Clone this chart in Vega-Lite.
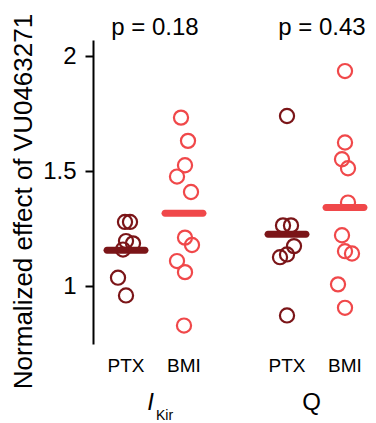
{
  "$schema": "https://vega.github.io/schema/vega-lite/v6.json",
  "padding": {"left": 10, "top": 13, "right": 0, "bottom": 0},
  "background": "white",
  "bounds": "flush",
  "config": {
    "font": "Liberation Sans",
    "view": {"stroke": null},
    "concat": {"spacing": 37}
  },
  "datasets": {
    "pts": [
      {"group": "IKir", "treatment": "PTX", "value": 1.28, "jitter": -1},
      {"group": "IKir", "treatment": "PTX", "value": 1.28, "jitter": 4},
      {"group": "IKir", "treatment": "PTX", "value": 1.197, "jitter": 0},
      {"group": "IKir", "treatment": "PTX", "value": 1.187, "jitter": 7},
      {"group": "IKir", "treatment": "PTX", "value": 1.16, "jitter": -3},
      {"group": "IKir", "treatment": "PTX", "value": 1.038, "jitter": -8},
      {"group": "IKir", "treatment": "PTX", "value": 0.961, "jitter": 0},
      {"group": "IKir", "treatment": "BMI", "value": 1.733, "jitter": -3},
      {"group": "IKir", "treatment": "BMI", "value": 1.632, "jitter": 4},
      {"group": "IKir", "treatment": "BMI", "value": 1.526, "jitter": 1},
      {"group": "IKir", "treatment": "BMI", "value": 1.477, "jitter": -7},
      {"group": "IKir", "treatment": "BMI", "value": 1.41, "jitter": 7},
      {"group": "IKir", "treatment": "BMI", "value": 1.212, "jitter": 1},
      {"group": "IKir", "treatment": "BMI", "value": 1.18, "jitter": 8},
      {"group": "IKir", "treatment": "BMI", "value": 1.11, "jitter": -7},
      {"group": "IKir", "treatment": "BMI", "value": 1.062, "jitter": 1},
      {"group": "IKir", "treatment": "BMI", "value": 0.83, "jitter": 0},
      {"group": "Q", "treatment": "PTX", "value": 1.74, "jitter": 0},
      {"group": "Q", "treatment": "PTX", "value": 1.265, "jitter": -4},
      {"group": "Q", "treatment": "PTX", "value": 1.265, "jitter": 4},
      {"group": "Q", "treatment": "PTX", "value": 1.175, "jitter": 7},
      {"group": "Q", "treatment": "PTX", "value": 1.139, "jitter": 0},
      {"group": "Q", "treatment": "PTX", "value": 1.127, "jitter": -7},
      {"group": "Q", "treatment": "PTX", "value": 0.874, "jitter": 0},
      {"group": "Q", "treatment": "BMI", "value": 1.935, "jitter": 0},
      {"group": "Q", "treatment": "BMI", "value": 1.625, "jitter": 0},
      {"group": "Q", "treatment": "BMI", "value": 1.552, "jitter": -3},
      {"group": "Q", "treatment": "BMI", "value": 1.513, "jitter": 3},
      {"group": "Q", "treatment": "BMI", "value": 1.364, "jitter": 3},
      {"group": "Q", "treatment": "BMI", "value": 1.222, "jitter": -3},
      {"group": "Q", "treatment": "BMI", "value": 1.153, "jitter": 0},
      {"group": "Q", "treatment": "BMI", "value": 1.143, "jitter": 7},
      {"group": "Q", "treatment": "BMI", "value": 1.009, "jitter": -7},
      {"group": "Q", "treatment": "BMI", "value": 0.907, "jitter": 0}
    ]
  },
  "hconcat": [
    {
      "width": 124,
      "height": 304,
      "layer": [
        {
          "data": {"name": "pts"},
          "transform": [{"filter": "datum.group === 'IKir'"}],
          "mark": {"type": "tick", "size": 45, "thickness": 7, "cornerRadius": 3.5},
          "encoding": {
            "x": {"field": "treatment", "type": "nominal", "scale": {"domain": ["PTX", "BMI"], "paddingInner": 0, "paddingOuter": 0.069},
              "axis": {"domain": false, "ticks": false, "labelFontSize": 19, "labelPadding": 12, "labelColor": "black", "labelAngle": 0, "title": "I", "titleFontSize": 24, "titleFontStyle": "italic", "titleFontWeight": "normal", "titlePadding": 15, "titleX": 57, "titleColor": "black"}},
            "y": {"aggregate": "mean", "field": "value", "type": "quantitative", "scale": {"domain": [0.75, 2.07], "nice": false, "zero": false},
              "axis": {"values": [1, 1.5, 2], "labelExpr": "format(datum.value, '~g')", "grid": false, "tickSize": 8, "tickWidth": 2, "tickColor": "black", "domainWidth": 2, "domainColor": "black", "labelFontSize": 24, "labelColor": "black", "labelPadding": 9, "title": "Normalized effect of VU0463271", "titleFontSize": 26, "titleFontWeight": "normal", "titleColor": "black", "titlePadding": 6, "titleY": 161}},
            "color": {"field": "treatment", "type": "nominal", "scale": {"domain": ["PTX", "BMI"], "range": ["#7b1518", "#f0484a"]}, "legend": null}
          }
        },
        {
          "data": {"name": "pts"},
          "transform": [{"filter": "datum.group === 'IKir'"}],
          "mark": {"type": "point", "shape": "circle", "filled": false, "size": 200, "strokeWidth": 2.2, "opacity": 1},
          "encoding": {
            "x": {"field": "treatment", "type": "nominal", "scale": {"domain": ["PTX", "BMI"], "paddingInner": 0, "paddingOuter": 0.069},
              "axis": {"domain": false, "ticks": false, "labelFontSize": 19, "labelPadding": 12, "labelColor": "black", "labelAngle": 0, "title": "I", "titleFontSize": 24, "titleFontStyle": "italic", "titleFontWeight": "normal", "titlePadding": 15, "titleX": 57, "titleColor": "black"}},
            "xOffset": {"field": "jitter", "type": "quantitative", "scale": {"domain": [-10, 10], "range": [19, 39]}},
            "y": {"field": "value", "type": "quantitative", "scale": {"domain": [0.75, 2.07], "nice": false, "zero": false},
              "axis": {"values": [1, 1.5, 2], "labelExpr": "format(datum.value, '~g')", "grid": false, "tickSize": 8, "tickWidth": 2, "tickColor": "black", "domainWidth": 2, "domainColor": "black", "labelFontSize": 24, "labelColor": "black", "labelPadding": 9, "title": "Normalized effect of VU0463271", "titleFontSize": 26, "titleFontWeight": "normal", "titleColor": "black", "titlePadding": 6, "titleY": 161}},
            "color": {"field": "treatment", "type": "nominal", "scale": {"domain": ["PTX", "BMI"], "range": ["#7b1518", "#f0484a"]}, "legend": null}
          }
        },
        {
          "data": {"values": [{"t": "p = 0.18", "v": 2.092}]},
          "mark": {"type": "text", "baseline": "alphabetic", "align": "center", "fontSize": 24, "color": "black"},
          "encoding": {
            "x": {"datum": "PTX", "bandPosition": 1},
            "y": {"field": "v", "type": "quantitative"},
            "text": {"field": "t"}
          }
        },
        {
          "data": {"values": [{"t": "Kir", "v": 0.422}]},
          "mark": {"type": "text", "baseline": "alphabetic", "align": "left", "fontSize": 14, "color": "black", "dx": 1},
          "encoding": {
            "x": {"datum": "PTX", "bandPosition": 1},
            "y": {"field": "v", "type": "quantitative"},
            "text": {"field": "t"}
          }
        }
      ]
    },
    {
      "width": 124,
      "height": 304,
      "layer": [
        {
          "data": {"name": "pts"},
          "transform": [{"filter": "datum.group === 'Q'"}],
          "mark": {"type": "tick", "size": 45, "thickness": 7, "cornerRadius": 3.5},
          "encoding": {
            "x": {"field": "treatment", "type": "nominal", "scale": {"domain": ["PTX", "BMI"], "paddingInner": 0, "paddingOuter": 0.069},
              "axis": {"domain": false, "ticks": false, "labelFontSize": 19, "labelPadding": 12, "labelColor": "black", "labelAngle": 0, "title": "Q", "titleFontSize": 24, "titleFontWeight": "normal", "titlePadding": 15, "titleX": 57, "titleColor": "black"}},
            "y": {"aggregate": "mean", "field": "value", "type": "quantitative", "scale": {"domain": [0.75, 2.07], "nice": false, "zero": false}, "axis": null},
            "color": {"field": "treatment", "type": "nominal", "scale": {"domain": ["PTX", "BMI"], "range": ["#7b1518", "#f0484a"]}, "legend": null}
          }
        },
        {
          "data": {"name": "pts"},
          "transform": [{"filter": "datum.group === 'Q'"}],
          "mark": {"type": "point", "shape": "circle", "filled": false, "size": 200, "strokeWidth": 2.2, "opacity": 1},
          "encoding": {
            "x": {"field": "treatment", "type": "nominal", "scale": {"domain": ["PTX", "BMI"], "paddingInner": 0, "paddingOuter": 0.069},
              "axis": {"domain": false, "ticks": false, "labelFontSize": 19, "labelPadding": 12, "labelColor": "black", "labelAngle": 0, "title": "Q", "titleFontSize": 24, "titleFontWeight": "normal", "titlePadding": 15, "titleX": 57, "titleColor": "black"}},
            "xOffset": {"field": "jitter", "type": "quantitative", "scale": {"domain": [-10, 10], "range": [19, 39]}},
            "y": {"field": "value", "type": "quantitative", "scale": {"domain": [0.75, 2.07], "nice": false, "zero": false}, "axis": null},
            "color": {"field": "treatment", "type": "nominal", "scale": {"domain": ["PTX", "BMI"], "range": ["#7b1518", "#f0484a"]}, "legend": null}
          }
        },
        {
          "data": {"values": [{"t": "p = 0.43", "v": 2.092}]},
          "mark": {"type": "text", "baseline": "alphabetic", "align": "center", "fontSize": 24, "color": "black", "dx": 6},
          "encoding": {
            "x": {"datum": "PTX", "bandPosition": 1},
            "y": {"field": "v", "type": "quantitative"},
            "text": {"field": "t"}
          }
        }
      ]
    }
  ],
  "resolve": {"scale": {"y": "independent", "x": "independent"}}
}
